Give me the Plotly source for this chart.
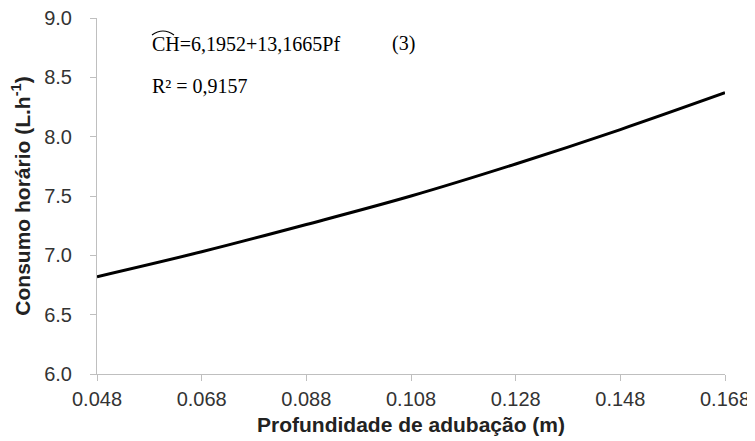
import plotly.graph_objects as go

depth = [0.048, 0.068, 0.088, 0.108, 0.128, 0.148, 0.168]
consumo = [6.82, 7.03, 7.26, 7.50, 7.77, 8.06, 8.37]
x_ticks = [0.048, 0.068, 0.088, 0.108, 0.128, 0.148, 0.168]
x_tick_labels = ["0.048", "0.068", "0.088", "0.108", "0.128", "0.148", "0.168"]
y_ticks = [6.0, 6.5, 7.0, 7.5, 8.0, 8.5, 9.0]
y_tick_labels = ["6.0", "6.5", "7.0", "7.5", "8.0", "8.5", "9.0"]

W, H = 747, 433
L, T = 89, 10
PW, PH = 628, 356

fig = go.Figure()
fig.add_trace(go.Scatter(x=depth, y=consumo, mode="lines",
                         line=dict(color="black", width=3, shape="spline"),
                         showlegend=False))

sans = "Liberation Sans, Arial"
axis_common = dict(showgrid=False, zeroline=False, showline=True, automargin=False,
                   linecolor="#bfbfbf", linewidth=1, ticks="outside",
                   tickcolor="#bfbfbf", ticklen=6, ticklabeloverflow="allow",
                   tickfont=dict(family=sans, size=20, color="#333333"))

fig.update_layout(
    width=W, height=H,
    margin=dict(l=L, r=W - L - PW, t=T, b=H - T - PH),
    paper_bgcolor="white", plot_bgcolor="white",
    xaxis=dict(range=[0.048, 0.168], tickvals=x_ticks, ticktext=x_tick_labels,
               ticklabelstandoff=1,
               title=dict(text="<b>Profundidade de adubação (m)</b>", standoff=8,
                          font=dict(family=sans, size=21, color="#222222")),
               **axis_common),
    yaxis=dict(range=[6.0, 9.0], tickvals=y_ticks, ticktext=y_tick_labels,
               ticklabelstandoff=14,
               title=dict(text="<b>Consumo horário (L.h<sup>-1</sup>)</b>", standoff=8,
                          font=dict(family=sans, size=21, color="#222222")),
               **axis_common),
)

serif = dict(family="Liberation Serif, Times New Roman", size=20, color="black")
def px(xp):
    return (xp - 8 - L) / PW
def py(yp):
    return (T + PH - (yp - 8)) / PH

fig.add_annotation(xref="paper", yref="paper", x=px(150), y=py(44),
                   text="CH=6,1952+13,1665Pf", showarrow=False,
                   xanchor="left", yanchor="middle", font=serif)
fig.add_annotation(xref="paper", yref="paper", x=px(390), y=py(44),
                   text="(3)", showarrow=False, xanchor="left", yanchor="middle", font=serif)
fig.add_annotation(xref="paper", yref="paper", x=px(150), y=py(86),
                   text="R² = 0,9157", showarrow=False,
                   xanchor="left", yanchor="middle", font=serif)

# hat over "CH"
fig.add_shape(type="path", xref="paper", yref="paper",
              path=f"M {px(152)} {py(35)} Q {px(163)} {py(27)} {px(174)} {py(35)}",
              line=dict(color="black", width=1.2))

fig.write_html("out.html")
